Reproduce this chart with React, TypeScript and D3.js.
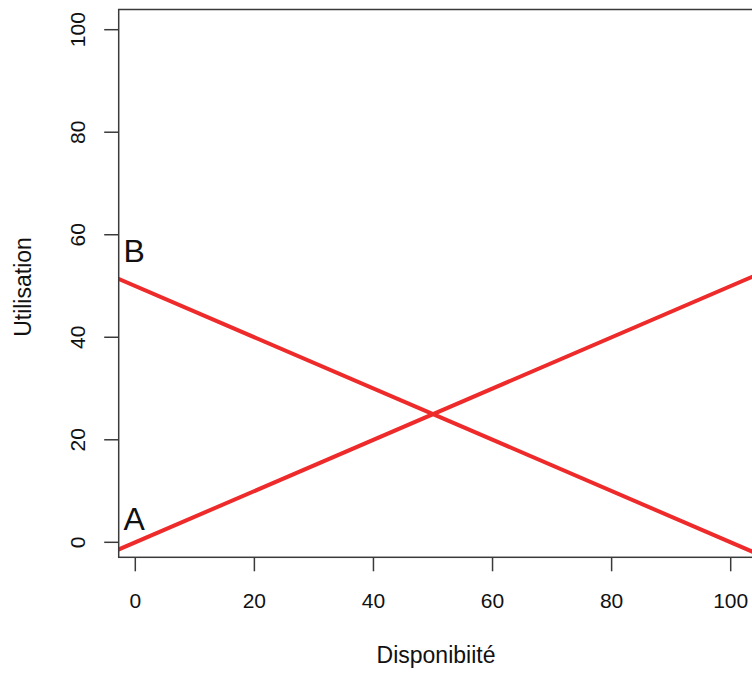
import React from "react";
import * as d3 from "d3";

const xTicks = [0, 20, 40, 60, 80, 100];
const yTicks = [0, 20, 40, 60, 80, 100];
const lineA = [
  { x: -5, y: -2.5 },
  { x: 110, y: 55 },
];
const lineB = [
  { x: -5, y: 52.5 },
  { x: 110, y: -5 },
];
const labels = [
  { text: "A", x: -2, y: 2.4 },
  { text: "B", x: -2, y: 54.6 },
];
const xTitle = "Disponibiité";
const yTitle = "Utilisation";

const W = 752;
const H = 673;
const plot = { left: 118.7, top: 9.5, right: 754, bottom: 557.3 };
const FONT = "'Liberation Sans', Arial, Helvetica, sans-serif";

export default function App() {
  const x = d3.scaleLinear().domain([0, 100]).range([135.3, 730.7]);
  const y = d3.scaleLinear().domain([0, 100]).range([542.3, 29.7]);
  const line = d3
    .line<{ x: number; y: number }>()
    .x((d) => x(d.x))
    .y((d) => y(d.y));
  const red = "#ee2a2a";
  const axisColor = "#3a3a3a";

  return (
    <svg
      width={W}
      height={H}
      style={{ position: "absolute", left: 0, top: 0, background: "#fff" }}
      fontFamily={FONT}
    >
      <defs>
        <clipPath id="plotclip">
          <rect
            x={plot.left}
            y={plot.top}
            width={plot.right - plot.left}
            height={plot.bottom - plot.top}
          />
        </clipPath>
      </defs>
      <rect x={0} y={0} width={W} height={H} fill="#fff" />
      <g clipPath="url(#plotclip)">
        <path d={line(lineA) || ""} stroke={red} strokeWidth={4} fill="none" />
        <path d={line(lineB) || ""} stroke={red} strokeWidth={4} fill="none" />
      </g>
      <rect
        x={plot.left}
        y={plot.top}
        width={plot.right - plot.left}
        height={plot.bottom - plot.top}
        fill="none"
        stroke={axisColor}
        strokeWidth={1.5}
      />
      {xTicks.map((t) => (
        <g key={"x" + t}>
          <line
            x1={x(t)}
            x2={x(t)}
            y1={plot.bottom}
            y2={plot.bottom + 14}
            stroke={axisColor}
            strokeWidth={1.5}
          />
          <text x={x(t)} y={608} textAnchor="middle" fontSize={21} fill="#111">
            {t}
          </text>
        </g>
      ))}
      {yTicks.map((t) => (
        <g key={"y" + t}>
          <line
            x1={plot.left - 14.5}
            x2={plot.left}
            y1={y(t)}
            y2={y(t)}
            stroke={axisColor}
            strokeWidth={1.5}
          />
          <text
            transform={`translate(85,${y(t)}) rotate(-90)`}
            textAnchor="middle"
            fontSize={21}
            fill="#111"
          >
            {t}
          </text>
        </g>
      ))}
      {labels.map((l) => (
        <text key={l.text} x={x(l.x)} y={y(l.y)} fontSize={32} fill="#111">
          {l.text}
        </text>
      ))}
      <text x={436} y={663} textAnchor="middle" fontSize={23} fill="#111">
        {xTitle}
      </text>
      <text
        transform={`translate(31,287) rotate(-90)`}
        textAnchor="middle"
        fontSize={23}
        fill="#111"
      >
        {yTitle}
      </text>
    </svg>
  );
}
